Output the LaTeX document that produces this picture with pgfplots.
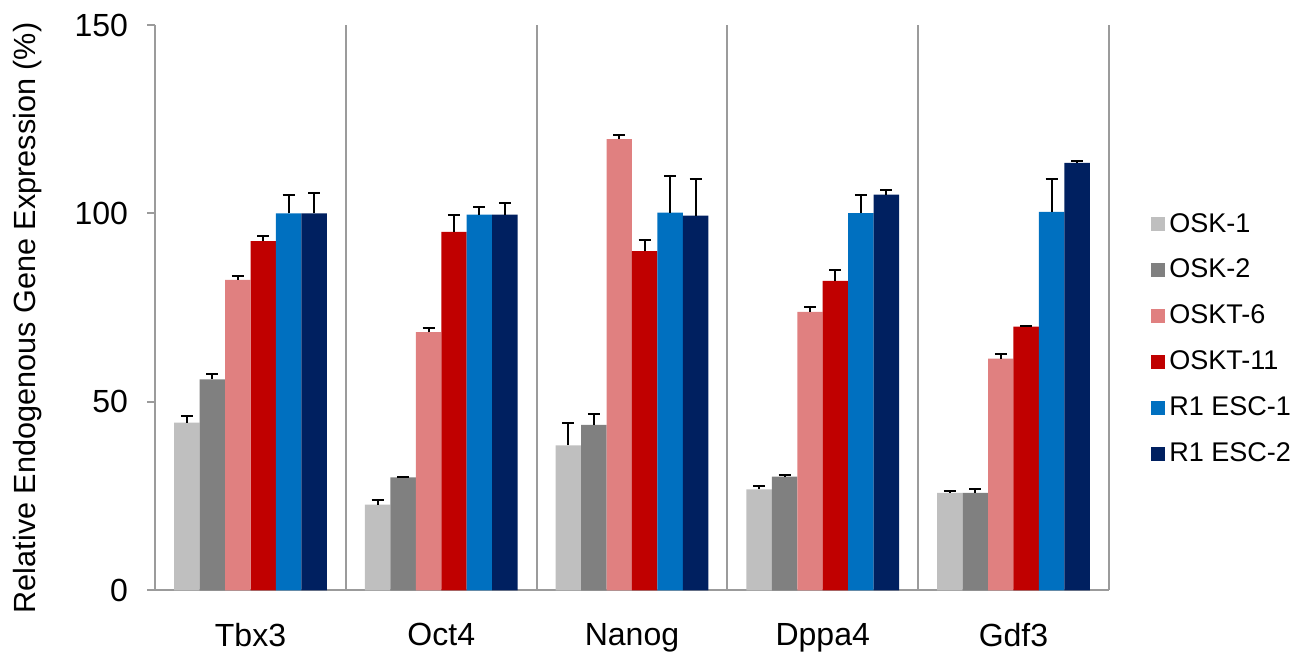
\documentclass[border=0pt]{standalone}
\usepackage{fontspec}
\setmainfont{Liberation Sans}
\usepackage{pgfplots}
\pgfplotsset{compat=1.18}
\usetikzlibrary{calc}

\definecolor{oskA}{RGB}{191,191,191}
\definecolor{oskB}{RGB}{128,128,128}
\definecolor{osktA}{RGB}{224,128,128}
\definecolor{osktB}{RGB}{192,0,0}
\definecolor{escA}{RGB}{0,112,192}
\definecolor{escB}{RGB}{0,32,96}
\definecolor{axgray}{RGB}{155,155,155}

\begin{document}
\begin{tikzpicture}
\begin{axis}[
  name=ax,
  scale only axis,
  width=476.5pt, height=282.5pt,
  ybar,
  bar width=0.1333,
  xmin=-0.5, xmax=4.5,
  ymin=0, ymax=150,
  ytick={0,50,100,150},
  xtick={0,1,2,3,4},
  xticklabels={Tbx3,Oct4,Nanog,Dppa4,Gdf3},
  extra x ticks={-0.5,0.5,1.5,2.5,3.5,4.5},
  extra x tick labels={},
  extra x tick style={grid=major, major tick length=4pt},
  x tick style={draw=none},
  axis lines*=left,
  axis line style={axgray, line width=1pt},
  y tick style={axgray, line width=1pt},
  major grid style={axgray, line width=1pt},
  tick align=outside,
  major tick length=4pt,
  /pgf/number format/assume math mode=true,
  tick label style={font=\fontsize{16}{19}\selectfont},
  xticklabel style={yshift=-9pt},
  yticklabel style={xshift=-6pt},
  ylabel={Relative Endogenous Gene Expression (\%)},
  ylabel style={font=\fontsize{15.3}{18}\selectfont, at={(axis description cs:-0.1333,0.482)}, anchor=center},
  legend style={draw=none, fill=none, at={(1,0.445)}, anchor=west, xshift=18pt,
    font=\fontsize{13.5}{16}\selectfont, row sep=8pt,
    /tikz/every odd column/.append style={column sep=0pt}},
  legend cell align=left,
  legend image code/.code={\fill[#1] (0pt,-3.5pt) rectangle (7pt,3.5pt);},
  error bars/y dir=plus,
  error bars/y explicit,
  error bars/error bar style={black, line width=1pt},
  error bars/error mark options={rotate=90, black, mark size=3pt, line width=1pt},
]

\addplot[fill=oskA, draw=none, bar shift=-0.3333] coordinates {
  (0,44.5) +- (0,1.8) (1,22.8) +- (0,1.1) (2,38.5) +- (0,6.0) (3,26.8) +- (0,1.0) (4,25.9) +- (0,0.4)
};
\addplot[fill=oskB, draw=none, bar shift=-0.2] coordinates {
  (0,56.0) +- (0,1.3) (1,30.0) +- (0,0.2) (2,43.9) +- (0,2.8) (3,30.2) +- (0,0.3) (4,25.9) +- (0,1.1)
};
\addplot[fill=osktA, draw=none, bar shift=-0.0667] coordinates {
  (0,82.4) +- (0,1.0) (1,68.5) +- (0,1.2) (2,119.7) +- (0,1.2) (3,73.9) +- (0,1.2) (4,61.5) +- (0,1.2)
};
\addplot[fill=osktB, draw=none, bar shift=0.0667] coordinates {
  (0,92.7) +- (0,1.2) (1,95.1) +- (0,4.6) (2,90.0) +- (0,3.0) (3,82.1) +- (0,2.8) (4,70.0) +- (0,0.2)
};
\addplot[fill=escA, draw=none, bar shift=0.2] coordinates {
  (0,100.0) +- (0,5.0) (1,99.7) +- (0,2.1) (2,100.2) +- (0,9.8) (3,100.1) +- (0,4.7) (4,100.4) +- (0,8.8)
};
\addplot[fill=escB, draw=none, bar shift=0.3333] coordinates {
  (0,100.0) +- (0,5.4) (1,99.7) +- (0,3.0) (2,99.4) +- (0,9.7) (3,105.0) +- (0,1.1) (4,113.4) +- (0,0.6)
};

\legend{OSK-1,OSK-2,OSKT-6,OSKT-11,R1 ESC-1,R1 ESC-2}
\end{axis}
\path ($(ax.south west)+(-77.5pt,-38.5pt)$) rectangle ($(ax.north east)+(97.5pt,12.5pt)$);
\end{tikzpicture}
\end{document}
